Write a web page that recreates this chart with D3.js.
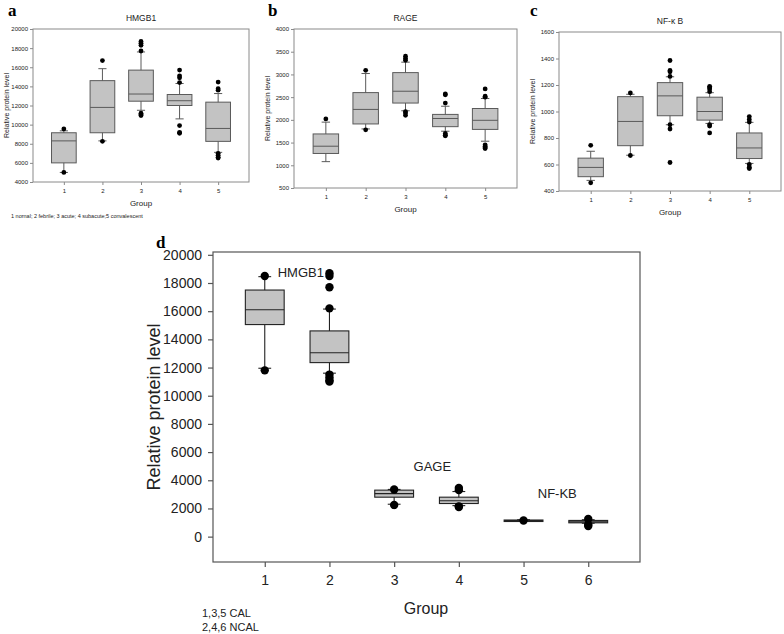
<!DOCTYPE html>
<html>
<head>
<meta charset="utf-8">
<script src="https://cdn.jsdelivr.net/npm/d3@7"></script>
<style>
  body { margin: 0; background: #fff; }
  svg { display: block; font-family: Arial, "Liberation Sans", sans-serif; }
  .plabel { font-family: "Times New Roman", "Liberation Serif", serif; font-weight: bold; }
</style>
</head>
<body>
<svg id="chart" width="784" height="634"></svg>
<script>
// box stats per group: [lower whisker, q1, median, q3, upper whisker]
var groupsSmall = [1, 2, 3, 4, 5],
    groupsBig = [1, 2, 3, 4, 5, 6];

var hmgb1Stats = [
  [5000, 6000, 8300, 9150, 9350],
  [8300, 9150, 11800, 14600, 15850],
  [11500, 12450, 13200, 15700, 17600],
  [10600, 12000, 12500, 13150, 14300],
  [7100, 8250, 9600, 12350, 13250]
];
var hmgb1Outliers = [
  [9550, 5000],
  [16700, 8250],
  [17700, 18300, 18500, 18700, 11200, 11050, 10950],
  [14400, 14900, 15100, 15700, 9900, 9200, 9100],
  [13600, 13750, 14450, 7000, 6800, 6600, 6500]
];

var rageStats = [
  [1080, 1260, 1420, 1690, 1950],
  [1800, 1910, 2230, 2600, 3020],
  [2200, 2370, 2630, 3040, 3270],
  [1750, 1850, 2030, 2120, 2300],
  [1530, 1790, 1990, 2250, 2470]
];
var rageOutliers = [
  [2020],
  [3090, 1780],
  [3310, 3350, 3400, 2180, 2100, 2150],
  [2370, 2550, 2570, 1700, 1660, 1650],
  [2500, 2520, 2680, 1450, 1420, 1390, 1370]
];

var nfkbStats = [
  [480, 508, 578, 648, 700],
  [670, 742, 925, 1112, 1130],
  [900, 968, 1118, 1218, 1262],
  [910, 935, 1000, 1108, 1142],
  [608, 645, 725, 838, 918]
];
var nfkbOutliers = [
  [745, 462],
  [1140, 668],
  [1265, 1300, 1310, 1385, 900, 868, 615],
  [1150, 1170, 1180, 1190, 900, 890, 838],
  [920, 940, 962, 600, 580, 570]
];

var calStats = [
  [11950, 15050, 16100, 17500, 18450],
  [11600, 12350, 13050, 14600, 16150],
  [2300, 2800, 3050, 3300, 3350],
  [2200, 2350, 2550, 2800, 3200],
  [1100, 1120, 1150, 1180, 1200],
  [950, 980, 1050, 1150, 1200]
];
var calOutliers = [
  [18500, 11800],
  [16200, 17700, 18500, 18700, 11500, 11300, 11100, 11000],
  [3350, 2250],
  [3300, 3450, 2100, 2150],
  [1150],
  [1250, 850, 750]
];

var smallTitles = ['HMGB1', 'RAGE', 'NF-\u03ba  B'];
var bigLabels = [
  {text: 'HMGB1', g: 1.2, v: 18400},
  {text: 'GAGE', g: 3.3, v: 4650},
  {text: 'NF-KB', g: 5.22, v: 2750}
];

var svg = d3.select('#chart');

function boxPanel(opt) {
  var g = svg.append('g');
  var x = d3.scaleLinear().domain([opt.groups[0] - 0.8, opt.groups[opt.groups.length - 1] + 0.8])
    .range([opt.left, opt.right]);
  var y = d3.scaleLinear().domain(opt.yDomain).range([opt.bottom, opt.top]);
  var step = x(2) - x(1),
      bw = step * opt.boxFrac,
      cw = bw * 0.33;

  // frame
  g.append('rect')
    .attr('x', opt.left).attr('y', opt.top)
    .attr('width', opt.right - opt.left).attr('height', opt.bottom - opt.top)
    .attr('fill', 'none').attr('stroke', opt.frame).attr('stroke-width', opt.frameW);

  var yAxis = g.append('g')
    .attr('transform', `translate(${opt.left},0)`)
    .call(d3.axisLeft(y).tickValues(opt.yTicks).tickSize(opt.tick).tickPadding(opt.pad).tickFormat(d3.format('d')));
  var xAxis = g.append('g')
    .attr('transform', `translate(0,${opt.bottom})`)
    .call(d3.axisBottom(x).tickValues(opt.groups).tickSize(opt.tick).tickPadding(opt.pad + 2).tickFormat(d3.format('d')));
  [yAxis, xAxis].forEach(function(a) {
    a.select('.domain').remove();
    a.selectAll('line').attr('stroke', opt.frame).attr('stroke-width', opt.frameW);
    a.selectAll('text').attr('font-size', opt.tickFont).attr('fill', '#222')
      .attr('font-family', 'Arial, "Liberation Sans", sans-serif');
  });

  var box = g.selectAll('g.box')
    .data(opt.stats)
    .enter()
    .append('g')
    .attr('class', 'box');

  // whiskers
  box.append('line')
    .attr('x1', function(d, i) { return x(opt.groups[i]); })
    .attr('x2', function(d, i) { return x(opt.groups[i]); })
    .attr('y1', function(d) { return y(d[0]); })
    .attr('y2', function(d) { return y(d[4]); })
    .attr('stroke', opt.line).attr('stroke-width', opt.lineW);
  [0, 4].forEach(function(k) {
    box.append('line')
      .attr('x1', function(d, i) { return x(opt.groups[i]) - cw / 2; })
      .attr('x2', function(d, i) { return x(opt.groups[i]) + cw / 2; })
      .attr('y1', function(d) { return y(d[k]); })
      .attr('y2', function(d) { return y(d[k]); })
      .attr('stroke', opt.line).attr('stroke-width', opt.lineW);
  });

  box.append('rect')
    .attr('x', function(d, i) { return x(opt.groups[i]) - bw / 2; })
    .attr('width', bw)
    .attr('y', function(d) { return y(d[3]); })
    .attr('height', function(d) { return Math.max(1.5, y(d[1]) - y(d[3])); })
    .attr('fill', '#c3c3c3').attr('stroke', opt.line).attr('stroke-width', opt.lineW);

  box.append('line')
    .attr('x1', function(d, i) { return x(opt.groups[i]) - bw / 2; })
    .attr('x2', function(d, i) { return x(opt.groups[i]) + bw / 2; })
    .attr('y1', function(d) { return y(d[2]); })
    .attr('y2', function(d) { return y(d[2]); })
    .attr('stroke', opt.line).attr('stroke-width', opt.lineW);

  box.selectAll('circle')
    .data(function(d, i) { return opt.outliers[i].map(function(v) { return {g: opt.groups[i], v: v}; }); })
    .enter()
    .append('circle')
    .attr('cx', function(d) { return x(d.g); })
    .attr('cy', function(d) { return y(d.v); })
    .attr('r', opt.dot)
    .attr('fill', '#000');

  return {g: g, x: x, y: y};
}

var smallBase = {
  groups: groupsSmall, boxFrac: 0.64, frame: '#8a8a8a', frameW: 1, line: '#5a5a5a', lineW: 1,
  tick: 3, pad: 2, tickFont: '6px', dot: 2.4
};

var pa = boxPanel(Object.assign({}, smallBase, {
  left: 33, right: 249, top: 29, bottom: 182,
  yDomain: [4000, 20000], yTicks: d3.range(4000, 20001, 2000),
  stats: hmgb1Stats, outliers: hmgb1Outliers
}));
var pb = boxPanel(Object.assign({}, smallBase, {
  left: 294, right: 517, top: 29, bottom: 188,
  yDomain: [500, 4000], yTicks: d3.range(500, 4001, 500),
  stats: rageStats, outliers: rageOutliers
}));
var pc = boxPanel(Object.assign({}, smallBase, {
  left: 559, right: 781, top: 32, bottom: 191,
  yDomain: [400, 1600], yTicks: d3.range(400, 1601, 200),
  stats: nfkbStats, outliers: nfkbOutliers
}));

[pa, pb, pc].forEach(function(p, i) {
  var r = p.x.range(), yr = p.y.range();
  var cx = (r[0] + r[1]) / 2;
  p.g.append('text').attr('x', cx).attr('y', yr[1] - 8).attr('text-anchor', 'middle')
    .attr('font-size', '8.5px').attr('fill', '#222').text(smallTitles[i]);
  p.g.append('text').attr('x', cx).attr('y', yr[0] + 24).attr('text-anchor', 'middle')
    .attr('font-size', '8px').attr('fill', '#222').text('Group');
  p.g.append('text')
    .attr('transform', `translate(${r[0] - 24},${(yr[0] + yr[1]) / 2}) rotate(-90)`)
    .attr('text-anchor', 'middle').attr('font-size', '7px').attr('fill', '#222')
    .text('Relative protein level');
});

svg.append('text').attr('x', 11).attr('y', 218).attr('font-size', '5.5px').attr('fill', '#222')
  .text('1 nornal; 2 febrile; 3 acute; 4 subacute;5 convalescent');

[['a', 8, 16], ['b', 268, 16], ['c', 530, 16], ['d', 156, 248]].forEach(function(l) {
  svg.append('text').attr('class', 'plabel').attr('x', l[1]).attr('y', l[2])
    .attr('font-size', '17px').text(l[0]);
});

var pd = boxPanel({
  groups: groupsBig, boxFrac: 0.6, frame: '#555', frameW: 1.2, line: '#222', lineW: 1.1,
  tick: 5, pad: 6, tickFont: '14px', dot: 4.2,
  left: 213, right: 640, top: 252, bottom: 562,
  yDomain: [-1800, 20200], yTicks: d3.range(0, 20001, 2000),
  stats: calStats, outliers: calOutliers
});

pd.g.selectAll('text.lab')
  .data(bigLabels)
  .enter()
  .append('text')
  .attr('class', 'lab')
  .attr('x', function(d) { return pd.x(d.g); })
  .attr('y', function(d) { return pd.y(d.v); })
  .attr('font-size', '13px').attr('fill', '#222')
  .text(function(d) { return d.text; });

pd.g.append('text').attr('x', 426).attr('y', 614).attr('text-anchor', 'middle')
  .attr('font-size', '16px').attr('fill', '#222').text('Group');
pd.g.append('text')
  .attr('transform', `translate(160,${(252 + 562) / 2}) rotate(-90)`)
  .attr('text-anchor', 'middle').attr('font-size', '18px').attr('fill', '#222')
  .text('Relative protein level');
pd.g.append('text').attr('x', 202).attr('y', 617).attr('font-size', '11px').attr('fill', '#222').text('1,3,5 CAL');
pd.g.append('text').attr('x', 202).attr('y', 631).attr('font-size', '11px').attr('fill', '#222').text('2,4,6 NCAL');
</script>
</body>
</html>
